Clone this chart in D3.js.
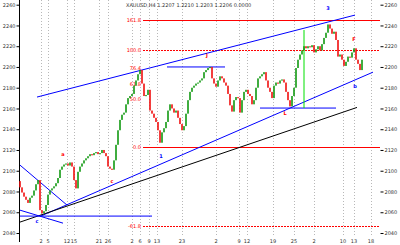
<!DOCTYPE html>
<html>
<head>
<meta charset="utf-8">
<script src="https://cdn.jsdelivr.net/npm/d3@7/dist/d3.min.js"></script>
<style>
  body { margin: 0; background: #fff; }
  svg { display: block; }
  text { font-family: "DejaVu Sans", sans-serif; }
</style>
</head>
<body>
<div id="chart"></div>
<script>
// closing prices, one per bar (open = previous close)
var closes = [
  2084,2079,2075,2072,2069,2074,2076,2081,2087,2091,
  2062,2059,2061,2067,2077,2081,2083,2085,2088,2093,
  2101,2104,2106,2107,2105,2108,2104,2091,2083,2099,
  2104,2107,2110,2112,2114,2116,2115,2117,2118,2116,
  2117,2120,2117,2114,2104,2102,2101,2110,2125,2139,
  2149,2154,2156,2164,2170,2172,2174,2182,2187,2193,
  2197,2184,2172,2173,2178,2158,2155,2151,2147,2139,
  2127,2137,2141,2147,2158,2164,2160,2156,2158,2151,
  2145,2139,2143,2155,2168,2176,2180,2182,2184,2185,
  2187,2189,2195,2197,2199,2200,2189,2184,2181,2187,
  2191,2189,2185,2182,2174,2163,2157,2168,2171,2170,
  2156,2168,2176,2178,2174,2172,2164,2168,2180,2189,
  2191,2193,2195,2187,2180,2176,2170,2182,2185,2184,
  2187,2188,2185,2176,2168,2162,2172,2180,2199,2207,
  2212,2216,2220,2218,2220,2219,2221,2214,2217,2220,
  2216,2222,2228,2233,2241,2237,2232,2234,2226,2210,
  2212,2207,2201,2205,2210,2209,2214,2218,2207,2203,
  2197,2207
];
var firstOpen = 2090;

var priceTicks = [2260,2240,2220,2200,2180,2160,2140,2120,2100,2080,2060,2040];

// vertical grid (bar index) and their date labels
var gridIdx = [10.5,14,23.5,27,39.5,44,56,60,64.5,68.5,81,98,109.5,113.5,126.5,137,147,161.5,167,175.5];
var gridLabels = ["2","5","12","15","21","26","2","6","9","13","23","2","9","12","19","25","2","10","13","18"];

// retracement levels
var fibPrices = [2245,2216,2199,2184,2169,2123,2047];
var fibLabels = ["161.8","100.0","76.4","61.8","50.0","0.0","-61.8"];
var fibLine   = ["solid","dot",null,null,null,"solid","dot"];
var fibFrom = 61.5, fibTo = 180;

// trend lines: [index0, price0, index1, price1, colour]
var trendLines = [
  [8.5, 2171, 167.5, 2250, "#0000ff"],
  [10, 2056, 176.5, 2195, "#0000ff"],
  [0, 2050.5, 168.5, 2161, "#000000"],
  [0, 2105.4, 23.5, 2066.9, "#0000ff"],
  [0, 2062, 21.5, 2049.5, "#0000ff"],
  [0, 2056.3, 66, 2056.3, "#0000ff"],
  [73.5, 2200, 102.5, 2200, "#0000ff"],
  [120, 2160.4, 158, 2160.4, "#0000ff"],
  [142, 2235.6, 142, 2160.4, "#00e000"]
];

// small wave markers: [index, price, text, colour]
var marks = [
  [21.5, 2114, "a", "#ff0000"],
  [46, 2088, "c", "#ff0000"],
  [70.5, 2112, "1", "#0000ff"],
  [93.5, 2210, "J", "#ff0000"],
  [132.5, 2154, "L", "#ff0000"],
  [154, 2255, "3", "#0000ff"],
  [167, 2225, "F", "#ff0000"],
  [167.5, 2180, "b", "#0000ff"],
  [8.5, 2050, "c", "#0000ff"]
];

var title = "XAUUSD,H4  1.2207  1.2210  1.2203  1.2206  0.0000";

var W = 400, H = 245;
var svg = d3.select("#chart").append("svg").attr("width", W).attr("height", H);

var x = d3.scaleLinear().domain([0, closes.length - 1]).range([20, 362]);
var y = d3.scaleLinear().domain([2260, 2040]).range([4.7, 233]);

// grid
svg.append("g").selectAll("line").data(gridIdx).enter().append("line")
  .attr("x1", function(d){ return Math.round(x(d)) + 0.5; })
  .attr("x2", function(d){ return Math.round(x(d)) + 0.5; })
  .attr("y1", 0).attr("y2", 236)
  .style("stroke", "#b8b8b8").style("stroke-dasharray", "1,2");

svg.append("g").selectAll("text").data(gridIdx).enter().append("text")
  .attr("x", function(d){ return x(d); })
  .attr("y", 243)
  .attr("text-anchor", "middle")
  .style("font-size", "5px").style("fill", "#333")
  .text(function(d, i){ return gridLabels[i]; });

// left axis
svg.append("line").attr("x1", 19.5).attr("x2", 19.5).attr("y1", 0).attr("y2", 242)
  .style("stroke", "#000").style("stroke-width", 1);
var leftAxis = d3.axisLeft(y).tickValues(priceTicks).tickSize(3).tickPadding(1)
  .tickFormat(d3.format("d"));
var gl = svg.append("g").attr("transform", "translate(19.5,0)").call(leftAxis);
gl.select(".domain").remove();
gl.selectAll("text").style("font-size", "5px").style("fill", "#333").style("font-family", "DejaVu Sans");

// right axis
var rightAxis = d3.axisRight(y).tickValues(priceTicks).tickSize(3).tickPadding(1)
  .tickFormat(d3.format("d"));
var gr = svg.append("g").attr("transform", "translate(380.5,0)").call(rightAxis);
gr.select(".domain").remove();
gr.selectAll("text").style("font-size", "5px").style("fill", "#333").style("font-family", "DejaVu Sans");

// fib levels
var fg = svg.append("g");
fibPrices.forEach(function(p, i){
  if (fibLine[i]) {
    fg.append("line")
      .attr("x1", x(fibFrom)).attr("x2", x(fibTo))
      .attr("y1", Math.round(y(p)) + 0.5).attr("y2", Math.round(y(p)) + 0.5)
      .style("stroke", "#ff0000").style("stroke-width", 1)
      .style("stroke-dasharray", fibLine[i] == "dot" ? "2,1" : null);
  }
  fg.append("text")
    .attr("x", x(fibFrom) - 2).attr("y", y(p) + 2)
    .attr("text-anchor", "end")
    .style("font-size", "5px").style("fill", "#ff0000")
    .text(fibLabels[i]);
});

// trend lines
svg.append("g").selectAll("line").data(trendLines).enter().append("line")
  .attr("x1", function(d){ return x(d[0]); })
  .attr("y1", function(d){ return y(d[1]); })
  .attr("x2", function(d){ return x(d[2]); })
  .attr("y2", function(d){ return y(d[3]); })
  .style("stroke", function(d){ return d[4]; })
  .style("stroke-width", 1);

// candles
var bars = closes.map(function(c, i){
  return { i: i, o: i == 0 ? firstOpen : closes[i - 1], c: c };
});
svg.append("g").selectAll("rect").data(bars).enter().append("rect")
  .attr("x", function(d){ return x(d.i) - 0.8; })
  .attr("width", 1.6)
  .attr("y", function(d){ return y(Math.max(d.o, d.c)); })
  .attr("height", function(d){ return Math.max(1.2, Math.abs(y(d.o) - y(d.c))); })
  .style("fill", function(d){ return d.c >= d.o ? "#129a12" : "#f01010"; });

// markers
svg.append("g").selectAll("text").data(marks).enter().append("text")
  .attr("x", function(d){ return x(d[0]); })
  .attr("y", function(d){ return y(d[1]); })
  .attr("text-anchor", "middle")
  .style("font-size", "5px").style("font-weight", "bold")
  .style("fill", function(d){ return d[3]; })
  .text(function(d){ return d[2]; });

// title
svg.append("text").attr("x", 126).attr("y", 7)
  .style("font-size", "5px").style("fill", "#333")
  .text(title);
</script>
</body>
</html>
